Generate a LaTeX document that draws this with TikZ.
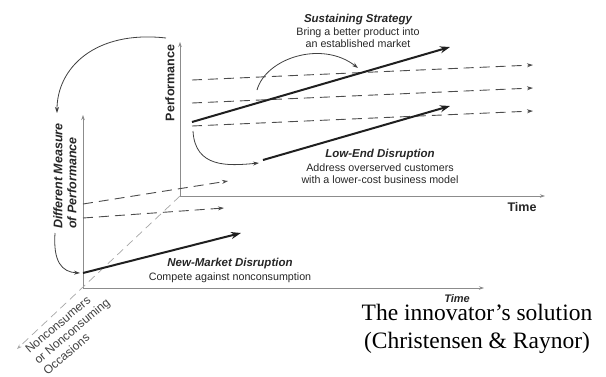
\documentclass[tikz,border=0pt]{standalone}
\usepackage{fontspec}
\setmainfont{Liberation Serif}
\newfontfamily\arial{Liberation Sans}
\newcommand\mytitlefont{\arial\fontsize{11.5}{13}\selectfont\bfseries\itshape}
\usetikzlibrary{arrows.meta}
\begin{document}
\begin{tikzpicture}[x=1pt,y=-1pt,
  axisline/.style={draw=black!45, line width=0.8pt, -{Stealth[length=5pt,width=3.5pt]}},
  diagaxis/.style={draw=black!35, line width=0.7pt, dash pattern=on 8pt off 5pt, -{Stealth[length=5pt,width=3.5pt]}},
  thickarrow/.style={draw=black!88, line width=2pt, -{Stealth[length=10pt,width=7pt]}},
  dasharrow/.style={draw=black!70, line width=0.9pt, dash pattern=on 10pt off 6pt, -{Stealth[length=6pt,width=4pt]}},
  curvearrow/.style={draw=black!75, line width=0.8pt, -{Stealth[length=6pt,width=4pt]}},
  txtblock/.style={align=center, font=\arial\fontsize{10.7}{12}\selectfont, text=black!85, inner sep=0pt},
  axlabel/.style={font=\arial\fontsize{12.5}{14}\selectfont\bfseries, text=black!85, inner sep=0pt},
]
\useasboundingbox (0,0) rectangle (606,376);
% back axes
\coordinate (O1) at (180,196);
\coordinate (P1top) at (180,42);
\coordinate (T1end) at (545,196);
\draw[axisline] (O1) -- (P1top);
\draw[axisline] (O1) -- (T1end);
% front axes
\coordinate (O2) at (83,288);
\coordinate (P2top) at (83,115);
\coordinate (T2end) at (484,288);
\draw[axisline] (O2) -- (P2top);
\draw[axisline] (O2) -- (T2end);
% diagonal axis
\coordinate (Dend) at (17,349);
\draw[diagaxis] (O1) -- (Dend);
% back dashed performance trajectories
\coordinate (a1) at (192,80);  \coordinate (b1) at (533,65);
\coordinate (a2) at (192,103); \coordinate (b2) at (533,88);
\coordinate (a3) at (192,126); \coordinate (b3) at (533,111);
\draw[dasharrow] (a1) -- (b1);
\draw[dasharrow] (a2) -- (b2);
\draw[dasharrow] (a3) -- (b3);
% sustaining
\coordinate (s0) at (192,122); \coordinate (s1) at (450,47);
\draw[thickarrow] (s0) -- (s1);
\coordinate (sc0) at (257,90); \coordinate (sc1) at (358,68);
\draw[curvearrow] (sc0) .. controls (266,58) and (322,40) .. (sc1);
% low-end
\coordinate (l0) at (263,160); \coordinate (l1) at (450,106);
\draw[thickarrow] (l0) -- (l1);
\coordinate (lc0) at (193,131); \coordinate (lc1) at (259,163);
\draw[curvearrow] (lc0) .. controls (195,168) and (228,166) .. (lc1);
% front dashed
\coordinate (f1a) at (83,204); \coordinate (f1b) at (228,181);
\coordinate (f2a) at (83,218); \coordinate (f2b) at (224,208);
\draw[dasharrow] (f1a) -- (f1b);
\draw[dasharrow] (f2a) -- (f2b);
% new market
\coordinate (n0) at (83,273); \coordinate (n1) at (241,233);
\draw[thickarrow] (n0) -- (n1);
% big arc and small arrow
\coordinate (g0) at (166,38); \coordinate (g1) at (57,113);
\draw[curvearrow] (g0) .. controls (95,30) and (57,68) .. (g1);
\coordinate (h0) at (55,233); \coordinate (h1) at (80,273);
\draw[curvearrow] (h0) .. controls (53,262) and (62,272) .. (h1);
% labels
\node[txtblock] (sus) at (358,31) {{\mytitlefont Sustaining Strategy}\\[1.5pt] Bring a better product into\\ an established market};
\node[txtblock] (low) at (380,166.5) {{\mytitlefont Low-End Disruption}\\[1.5pt] Address overserved customers\\ with a lower-cost business model};
\node[txtblock] (new) at (230,270.5) {{\mytitlefont New-Market Disruption}\\[1.5pt] Compete against nonconsumption};
\node[axlabel, rotate=90] (perf) at (170,83) {Performance};
\node[axlabel, font=\arial\fontsize{12.5}{14}\selectfont\bfseries\itshape, rotate=90, align=left, anchor=north west] (diff) at (53,229) {Different Measure\\of Performance};
\node[axlabel] (time1) at (522,207) {Time};
\node[axlabel, font=\arial\fontsize{11}{13}\selectfont\bfseries\itshape] (time2) at (457,299) {Time};
\node[inner sep=0pt, rotate=40, align=left, text=black!75, font=\arial\fontsize{12}{14}\selectfont] (nonc) at (72,331) {Nonconsumers\\or Nonconsuming\\Occasions};
\node[align=center, font=\fontsize{23.5}{28}\selectfont, inner sep=0pt] (cap) at (477,329) {The innovator’s solution\\(Christensen \& Raynor)};
\end{tikzpicture}
\end{document}
